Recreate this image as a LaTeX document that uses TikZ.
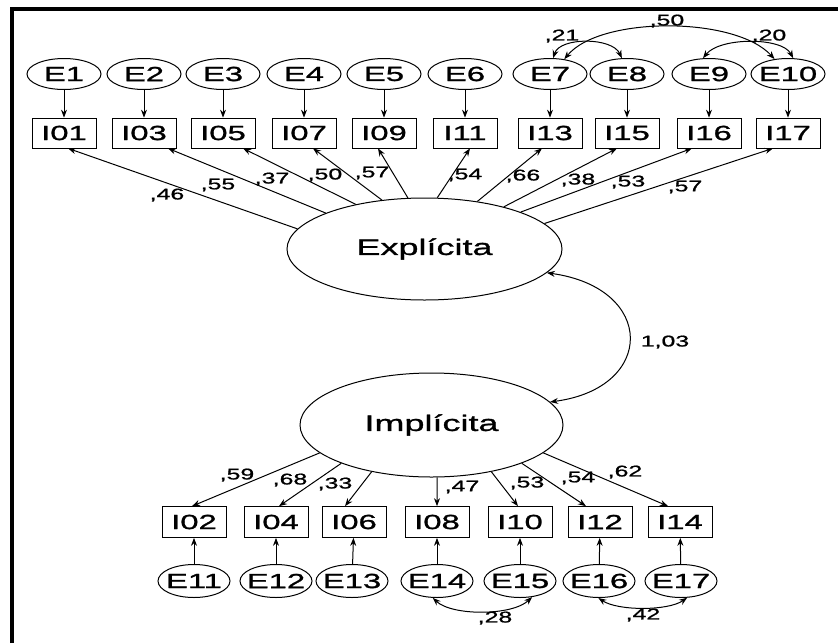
\documentclass[tikz,border=0pt]{standalone}
\usepackage{fontspec}
\newfontfamily\wide[FakeStretch=1.6,FakeBold=1.2]{Liberation Sans}
\usetikzlibrary{arrows.meta,calc,shapes.geometric}
\begin{document}
\begin{tikzpicture}[x=1pt,y=-1pt,
  txt/.style={font=\wide\fontsize{20.5}{23}\selectfont},
  err/.style={ellipse,draw,line width=1pt,minimum width=74pt,minimum height=31pt,inner xsep=-14pt,inner ysep=-6pt,txt},
  errb/.style={err,minimum width=72pt,minimum height=33pt},
  obs/.style={rectangle,draw,line width=0.7pt,minimum width=64pt,minimum height=30pt,inner sep=0pt,txt},
  lat/.style={ellipse,draw,line width=1pt,inner sep=0pt,font=\wide\fontsize{22.5}{25}\selectfont},
  lbl/.style={inner sep=0pt,font=\wide\fontsize{15.5}{18}\selectfont},
  arr/.style={-{Stealth[length=8pt,width=6pt]},line width=1pt},
  cov/.style={{Stealth[length=8pt,width=6pt]}-{Stealth[length=8pt,width=6pt]},line width=1pt}]
\useasboundingbox (0,0) rectangle (838,643);
\draw[line width=3.5pt] (12,643) -- (12,9) -- (838,9);

% latent
\node[lat,minimum width=275pt,minimum height=102pt] (Ex) at (424.5,249) {Explícita};
\node[lat,minimum width=263pt,minimum height=104pt] (Im) at (431.5,425) {Implícita};

% top row
\node[err] (E1) at (64,74) {E1};
\node[err] (E2) at (144,74) {E2};
\node[err] (E3) at (223,74) {E3};
\node[err] (E4) at (304,74) {E4};
\node[err] (E5) at (384,74) {E5};
\node[err] (E6) at (465,74) {E6};
\node[err] (E7) at (550,74) {E7};
\node[err] (E8) at (627,74) {E8};
\node[err] (E9) at (709,74) {E9};
\node[err] (E10) at (788,74) {E10};
\node[obs] (I01) at (64,133) {I01};
\node[obs] (I03) at (144,133) {I03};
\node[obs] (I05) at (223,133) {I05};
\node[obs] (I07) at (304,133) {I07};
\node[obs] (I09) at (384,133) {I09};
\node[obs] (I11) at (465,133) {I11};
\node[obs] (I13) at (550,133) {I13};
\node[obs] (I15) at (627,133) {I15};
\node[obs] (I16) at (709,133) {I16};
\node[obs] (I17) at (788,133) {I17};
\foreach \e/\i in {E1/I01,E2/I03,E3/I05,E4/I07,E5/I09,E6/I11,E7/I13,E8/I15,E9/I16,E10/I17}
  \draw[arr] (\e) -- (\i);

% loadings top
\draw[arr] (Ex.171.5) -- ($(I01.south)+(4,0)$);
\draw[arr] (Ex.160.3) -- ($(I03.south)+(24,0)$);
\draw[arr] (Ex.147.7) -- ($(I05.south)+(20,0)$);
\draw[arr] (Ex.131.5) -- ($(I07.south)+(9,0)$);
\draw[arr] (Ex.108) -- ($(I09.south)+(-6,0)$);
\draw[arr] (Ex.76.2) -- ($(I11.south)+(5,0)$);
\draw[arr] (Ex.42.9) -- ($(I13.south)+(-8,0)$);
\draw[arr] (Ex.28.5) -- ($(I15.south)+(-10,0)$);
\draw[arr] (Ex.21.2) -- ($(I16.south)+(-17,0)$);
\draw[arr] (Ex.12.8) -- ($(I17.south)+(-15,0)$);
\node[lbl] (l1) at (167,195) {,46};
\node[lbl] (l2) at (218,185) {,55};
\node[lbl] (l3) at (272,179) {,37};
\node[lbl] (l4) at (325,175) {,50};
\node[lbl] (l5) at (372,173) {,57};
\node[lbl] (l6) at (465,175) {,54};
\node[lbl] (l7) at (523,176) {,66};
\node[lbl] (l8) at (578,180) {,38};
\node[lbl] (l9) at (628,182) {,53};
\node[lbl] (l10) at (685,187) {,57};

% top covariances
\draw[cov] (E7.79) .. controls (560,37) and (612,37) .. (E8.108);
\draw[cov] (E7.46) .. controls (600,16) and (735,16) .. (E10.132);
\draw[cov] (E9.111) .. controls (720,37) and (782,37) .. (E10.72);
\node[lbl] (c1) at (562,36) {,21};
\node[lbl] (c2) at (667,21) {,50};
\node[lbl] (c3) at (769,36) {,20};

% factor covariance
\draw[cov] (Ex.-11) .. controls (656,288) and (656,388) .. (Im.11);
\node[lbl] (c4) at (665,342) {1,03};

% bottom row
\node[obs,minimum height=31pt] (I02) at (194,522) {I02};
\node[obs,minimum height=31pt] (I04) at (276,522) {I04};
\node[obs,minimum height=31pt] (I06) at (354,522) {I06};
\node[obs,minimum height=31pt] (I08) at (437,522) {I08};
\node[obs,minimum height=31pt] (I10) at (520,522) {I10};
\node[obs,minimum height=31pt] (I12) at (600,522) {I12};
\node[obs,minimum height=31pt] (I14) at (680,522) {I14};
\node[errb] (E11) at (194,581) {E11};
\node[errb] (E12) at (276,581) {E12};
\node[errb] (E13) at (352,581) {E13};
\node[errb] (E14) at (437,581) {E14};
\node[errb] (E15) at (520,581) {E15};
\node[errb] (E16) at (599,581) {E16};
\node[errb] (E17) at (681,581) {E17};
\foreach \e/\i in {E11/I02,E12/I04,E13/I06,E14/I08,E15/I10,E16/I12,E17/I14}
  \draw[arr] (\e) -- (\i);

% loadings bottom
\draw[arr] (Im.194.8) -- ($(I02.north)+(-2,0)$);
\draw[arr] (Im.203.6) -- ($(I04.north)+(3,0)$);
\draw[arr] (Im.218.9) -- ($(I06.north)+(-9,0)$);
\draw[arr] (Im.276) -- ($(I08.north)+(0,0)$);
\draw[arr] (Im.322.2) -- ($(I10.north)+(-2,0)$);
\draw[arr] (Im.337.9) -- ($(I12.north)+(-14,0)$);
\draw[arr] (Im.346.1) -- ($(I14.north)+(-12,0)$);
\node[lbl] (m1) at (237,475) {,59};
\node[lbl] (m2) at (290,480) {,68};
\node[lbl] (m3) at (335,484) {,33};
\node[lbl] (m4) at (462,487) {,47};
\node[lbl] (m5) at (527,483) {,53};
\node[lbl] (m6) at (578,478) {,54};
\node[lbl] (m7) at (625,472) {,62};

% bottom covariances
\draw[cov] (E14.256) .. controls (452,616) and (512,616) .. (E15.307);
\draw[cov] (E16.268) .. controls (618,611) and (668,611) .. (E17.290);
\node[lbl] (c5) at (495,618) {,28};
\node[lbl] (c6) at (643,615) {,42};
\end{tikzpicture}
\end{document}
